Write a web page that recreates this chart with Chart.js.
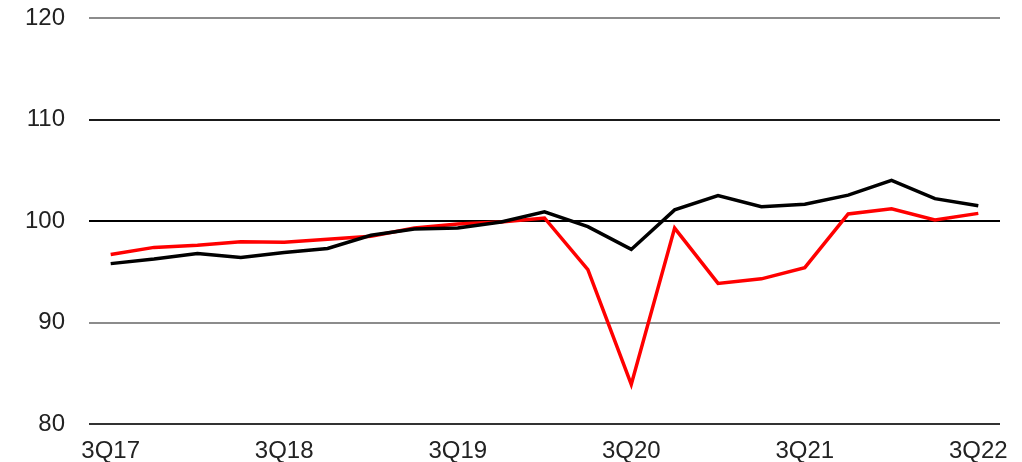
<!DOCTYPE html>
<html>
<head>
<meta charset="utf-8">
<script src="https://cdn.jsdelivr.net/npm/chart.js@4/dist/chart.umd.min.js"></script>
<style>
  html, body { margin: 0; padding: 0; background: #fff; }
  #wrap { width: 1022px; height: 462px; position: relative; }
</style>
</head>
<body>
<div id="wrap"><canvas id="chart"></canvas></div>
<script>
// quarters 3Q17 .. 3Q22
const quarters = ['3Q17','4Q17','1Q18','2Q18','3Q18','4Q18','1Q19','2Q19','3Q19','4Q19',
                  '1Q20','2Q20','3Q20','4Q20','1Q21','2Q21','3Q21','4Q21','1Q22','2Q22','3Q22'];
const blackSeries = [95.8, 96.25, 96.8, 96.4, 96.9, 97.3, 98.6, 99.2, 99.3, 99.9,
                     100.9, 99.45, 97.2, 101.1, 102.5, 101.4, 101.65, 102.55, 104.0, 102.2, 101.5];
const redSeries = [96.7, 97.4, 97.6, 97.95, 97.9, 98.2, 98.5, 99.3, 99.7, 99.9,
                   100.3, 95.2, 83.9, 99.3, 93.85, 94.3, 95.4, 100.7, 101.2, 100.1, 100.75];
const yTicks = [80, 90, 100, 110, 120];
const gridColors = { 80: '#333333', 90: '#8c8c8c', 100: '#000000', 110: '#1a1a1a', 120: '#8c8c8c' };

const tickFont = { family: '"Liberation Sans", Arial, sans-serif', size: 24 };

new Chart(document.getElementById('chart').getContext('2d'), {
    type: 'line',
    data: {
        labels: quarters,
        datasets: [
            {
                label: 'Black',
                data: blackSeries,
                borderColor: '#000000',
                borderWidth: 3.5,
                pointRadius: 0,
                tension: 0
            },
            {
                label: 'Red',
                data: redSeries,
                borderColor: '#ff0000',
                borderWidth: 3.5,
                pointRadius: 0,
                tension: 0
            }
        ]
    },
    options: {
        responsive: true,
        maintainAspectRatio: false,
        animation: false,
        layout: { padding: { top: 0, right: 22, left: 0, bottom: 0 } },
        plugins: {
            legend: { display: false },
            tooltip: { enabled: false }
        },
        scales: {
            x: {
                offset: true,
                grid: { display: false, drawTicks: false },
                border: { display: false },
                ticks: {
                    autoSkip: false,
                    maxRotation: 0,
                    padding: 13,
                    color: '#222222',
                    font: tickFont,
                    callback: function(value, index) {
                        return index % 4 === 0 ? quarters[index] : '';
                    }
                },
                afterFit: function(axis) { axis.height = 38; }
            },
            y: {
                min: 80,
                max: 120,
                afterBuildTicks: function(axis) {
                    axis.ticks = yTicks.map(v => ({ value: v }));
                },
                grid: {
                    drawTicks: false,
                    lineWidth: 2,
                    color: function(ctx) {
                        return gridColors[ctx.tick.value] || '#8c8c8c';
                    }
                },
                border: { display: false },
                ticks: {
                    padding: 24,
                    color: '#222222',
                    font: tickFont
                },
                afterFit: function(axis) {
                    axis.width = 89;
                    axis.paddingTop = 18;
                    axis.paddingBottom = 0;
                }
            }
        }
    }
});
</script>
</body>
</html>
